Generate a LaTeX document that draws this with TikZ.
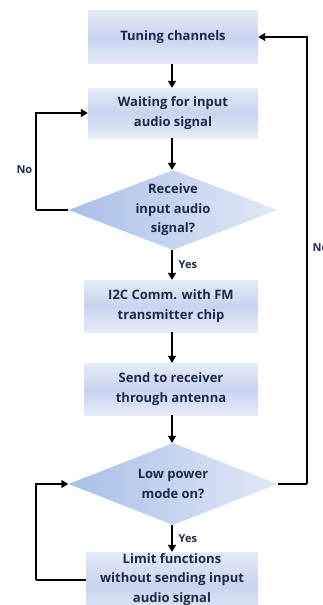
\documentclass[tikz,border=0pt]{standalone}
\usepackage{fontspec}
\setmainfont{Open Sans}
\usetikzlibrary{arrows.meta,shapes.geometric,calc}
\definecolor{txtc}{HTML}{1E2A4A}
\definecolor{boxmid}{HTML}{C6D4EF}
\definecolor{boxedge}{HTML}{E6ECF8}
\definecolor{decdark}{HTML}{A9BFE6}
\definecolor{declight}{HTML}{E2E9F7}
\tikzset{
  stepbox/.style={rectangle, inner sep=0pt, top color=boxedge, bottom color=boxedge, middle color=boxmid, draw=none},
  decbox/.style={diamond, inner sep=0pt, draw=none, left color=decdark, right color=declight},
  txt/.style={font=\bfseries\fontsize{13}{19.5}\selectfont, text=txtc, align=center, inner sep=0pt},
  lbl/.style={font=\bfseries\fontsize{11}{12}\selectfont, text=txtc, inner sep=0pt},
  conn/.style={line width=1.4pt, -{Triangle[width=8pt,length=7pt]}},
  line/.style={line width=1.4pt}
}
\begin{document}
\begin{tikzpicture}[x=1pt,y=-1pt]
\useasboundingbox (0,0) rectangle (323,605);
\clip (0,0) rectangle (323,605);
\node[stepbox, minimum width=170pt, minimum height=53pt] (b1) at (173,37) {};
\node[txt] at (b1) {Tuning channels};
\node[stepbox, minimum width=170pt, minimum height=50pt] (b2) at (173,113) {};
\node[txt] at (b2) {Waiting for input\\audio signal};
\node[decbox, minimum width=209pt, minimum height=80pt] (d1) at (173,210) {};
\node[txt] at (d1) {Receive\\input audio\\signal?};
\node[stepbox, minimum width=174pt, minimum height=52pt] (b3) at (171,306) {};
\node[txt] at (b3) {I2C Comm. with FM\\transmitter chip};
\node[stepbox, minimum width=174pt, minimum height=52pt] (b4) at (171,389) {};
\node[txt] at (b4) {Send to receiver\\through antenna};
\node[decbox, minimum width=209pt, minimum height=82pt] (d2) at (173,484) {};
\node[txt] at (d2) {Low power\\mode on?};
\node[stepbox, minimum width=172pt, minimum height=66pt] (b5) at (172,585) {};
\node[txt, anchor=north] (t5) at (172,553) {Limit functions\\without sending input\\audio signal};
\coordinate (l1) at (36,210);
\coordinate (r1) at (307,484);
\coordinate (l2) at (36,580);
\draw[conn] (b1.south -| 172,0) -- (b2.north -| 172,0);
\draw[conn] (b2.south -| 172,0) -- (d1.north -| 172,0);
\draw[line] (d1.west) -- (l1);
\draw[conn] (l1) |- (b2.west) node[pos=0.21, lbl, anchor=east, xshift=-3pt] {No};
\draw[conn] (d1.south -| 172,0) -- (b3.north -| 172,0) node[midway, lbl, anchor=west, xshift=6pt] {Yes};
\draw[conn] (b3.south -| 172,0) -- (b4.north -| 172,0);
\draw[conn] (b4.south -| 172,0) -- (d2.north -| 172,0);
\draw[line] (d2.east) -- (r1);
\draw[conn] (r1) |- (b1.east) node[pos=0.264, lbl, anchor=west, xshift=5pt] {No};
\draw[conn] (d2.south -| 172,0) -- (b5.north -| 172,0) node[midway, lbl, anchor=west, xshift=6pt] {Yes};
\draw[line] (b5.west |- l2) -- (l2);
\draw[conn] (l2) |- (d2.west);
\end{tikzpicture}
\end{document}
